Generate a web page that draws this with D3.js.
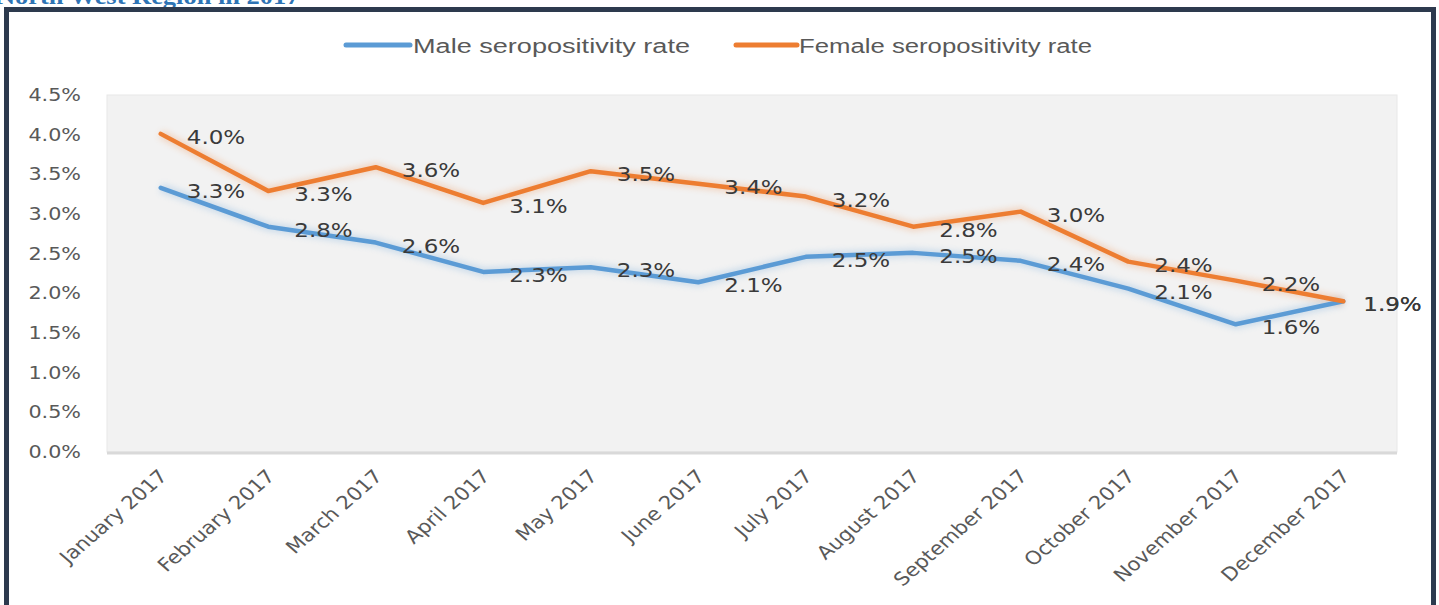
<!DOCTYPE html>
<html>
<head>
<meta charset="utf-8">
<script src="https://cdn.jsdelivr.net/npm/d3@7"></script>
<style>
  html, body { margin: 0; padding: 0; background: #ffffff; overflow: hidden; }
  svg { display: block; }
</style>
</head>
<body>
<svg id="chart" width="1439" height="605"></svg>
<script>
const months = ["January 2017", "February 2017", "March 2017", "April 2017", "May 2017", "June 2017",
  "July 2017", "August 2017", "September 2017", "October 2017", "November 2017", "December 2017"];
const maleRate = [3.33, 2.84, 2.64, 2.27, 2.33, 2.14, 2.46, 2.51, 2.41, 2.06, 1.61, 1.90];
const femaleRate = [4.01, 3.29, 3.59, 3.14, 3.54, 3.38, 3.22, 2.84, 3.03, 2.40, 2.16, 1.90];
const yTicks = [0, 0.5, 1.0, 1.5, 2.0, 2.5, 3.0, 3.5, 4.0, 4.5];
const seriesNames = ["Male seropositivity rate", "Female seropositivity rate"];
const seriesColors = ["#5b9bd5", "#ed7d31"];
const titleText = "North West Region in 2017";

const SX = 1.15; // horizontal stretch of the source picture
const svg = d3.select("#chart");

const plot = { left: 107, right: 1397, top: 95, bottom: 452 };

const x = d3.scaleBand().domain(months).range([plot.left, plot.right]).paddingInner(0).paddingOuter(0);
const xc = d => x(d) + x.bandwidth() / 2;
const y = d3.scaleLinear().domain([0, 4.5]).range([plot.bottom, plot.top]);

// defs: soft glow for lines
const defs = svg.append("defs");
const f = defs.append("filter").attr("id", "glow").attr("x", "-5%").attr("y", "-20%").attr("width", "110%").attr("height", "140%");
f.append("feGaussianBlur").attr("stdDeviation", 3);

// title (clipped at top, as in the source)
svg.append("text")
  .attr("transform", `translate(-4,4) scale(${SX},1)`)
  .attr("font-family", "'Liberation Serif', 'Times New Roman', serif")
  .attr("font-weight", "bold")
  .attr("font-size", 23)
  .attr("fill", "#2e74b5")
  .text(titleText);

// frame
svg.append("rect")
  .attr("x", 6.5).attr("y", 9.5).attr("width", 1427).attr("height", 640)
  .attr("fill", "none").attr("stroke", "#2d3a4e").attr("stroke-width", 5);

// plot area
svg.append("rect")
  .attr("x", plot.left).attr("y", plot.top)
  .attr("width", plot.right - plot.left).attr("height", plot.bottom - plot.top)
  .attr("fill", "#f2f2f2").attr("stroke", "#e8e8e8").attr("stroke-width", 1);

// bottom axis line
svg.append("line")
  .attr("x1", plot.left).attr("x2", plot.right)
  .attr("y1", y(0) + 1).attr("y2", y(0) + 1)
  .attr("stroke", "#d9d9d9").attr("stroke-width", 3);

// y tick labels
svg.append("g").selectAll("text").data(yTicks).join("text")
  .attr("transform", d => `translate(81,${y(d)}) scale(${SX},1)`)
  .attr("text-anchor", "end")
  .attr("dominant-baseline", "central")
  .attr("font-family", "'DejaVu Sans', sans-serif")
  .attr("font-size", 18)
  .attr("fill", "#595959")
  .text(d => d3.format(".1f")(d) + "%");

// x tick labels
svg.append("g").selectAll("text").data(months).join("text")
  .attr("transform", d => `translate(${xc(d) - 3},468) scale(${SX},1) rotate(-45)`)
  .attr("text-anchor", "end")
  .attr("dominant-baseline", "hanging")
  .attr("font-family", "'DejaVu Sans', sans-serif")
  .attr("font-size", 18.5)
  .attr("fill", "#595959")
  .text(d => d);

// lines
const series = [maleRate, femaleRate];
const line = d3.line().x((d, i) => xc(months[i])).y(d => y(d));
series.forEach((vals, si) => {
  svg.append("path").datum(vals)
    .attr("d", line).attr("fill", "none")
    .attr("stroke", seriesColors[si]).attr("stroke-width", 9).attr("opacity", 0.25)
    .attr("filter", "url(#glow)");
});
series.forEach((vals, si) => {
  svg.append("path").datum(vals)
    .attr("d", line).attr("fill", "none")
    .attr("stroke", seriesColors[si]).attr("stroke-width", 4.5)
    .attr("stroke-linejoin", "round").attr("stroke-linecap", "round");
});

// data labels
series.forEach((vals, si) => {
  svg.append("g").selectAll("text").data(vals).join("text")
    .attr("transform", (d, i) => `translate(${xc(months[i]) + (i === vals.length - 1 ? 20 : 26)},${y(d) + 3}) scale(${SX},1)`)
    .attr("dominant-baseline", "central")
    .attr("font-family", "'DejaVu Sans', sans-serif")
    .attr("font-size", 20)
    .attr("fill", "#3a3a3a")
    .text(d => d3.format(".1f")(d) + "%");
});

// legend
const legendItems = [
  { name: seriesNames[0], color: seriesColors[0], x1: 346, x2: 410, tx: 413, tl: 277 },
  { name: seriesNames[1], color: seriesColors[1], x1: 736, x2: 797, tx: 799, tl: 293 }
];
const lg = svg.append("g");
legendItems.forEach(it => {
  lg.append("line").attr("x1", it.x1).attr("x2", it.x2).attr("y1", 45).attr("y2", 45)
    .attr("stroke", it.color).attr("stroke-width", 5).attr("stroke-linecap", "round");
  lg.append("text").attr("x", it.tx).attr("y", 46)
    .attr("dominant-baseline", "central")
    .attr("font-family", "'Liberation Sans', Arial, sans-serif")
    .attr("font-size", 20)
    .attr("textLength", it.tl).attr("lengthAdjust", "spacingAndGlyphs")
    .attr("fill", "#595959")
    .text(it.name);
});
</script>
</body>
</html>
